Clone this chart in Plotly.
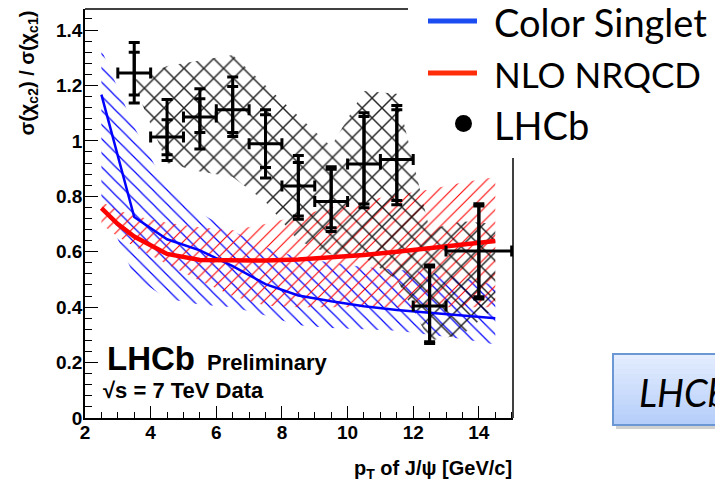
import plotly.graph_objects as go

# ---------------- data ----------------
# LHCb measurement: bins in pT(J/psi)
pt_center = [3.5, 4.5, 5.5, 6.5, 7.5, 8.5, 9.5, 10.5, 11.5, 12.5, 14.0]
pt_halfw = [0.5, 0.5, 0.5, 0.5, 0.5, 0.5, 0.5, 0.5, 0.5, 0.5, 1.0]
ratio = [1.245, 1.014, 1.086, 1.112, 0.990, 0.837, 0.781, 0.917, 0.933, 0.404, 0.603]
stat_hi = [1.320, 1.076, 1.152, 1.196, 1.094, 0.922, 0.898, 1.088, 1.112, 0.545, 0.765]
stat_lo = [1.166, 0.950, 1.030, 1.030, 0.904, 0.729, 0.687, 0.772, 0.785, 0.275, 0.438]
tot_hi = [1.355, 1.149, 1.188, 1.231, 1.112, 0.947, 0.907, 1.102, 1.128, 0.552, 0.773]
tot_lo = [1.137, 0.929, 0.971, 1.016, 0.866, 0.717, 0.673, 0.759, 0.770, 0.269, 0.429]

# polarisation band around the data (cross-hatched)
pol_x = [3.5, 4.5, 5.5, 6.5, 7.5, 8.5, 9.5, 10.5, 11.5, 12.5, 13.5, 14.5]
pol_hi = [1.22, 1.27, 1.29, 1.31, 1.20, 1.09, 0.98, 1.18, 1.17, 0.68, 0.71, 0.70]
pol_lo = [1.20, 0.92, 0.89, 0.87, 0.78, 0.64, 0.59, 0.58, 0.50, 0.28, 0.30, 0.40]

# Color Singlet prediction
cs_x = [2.5, 3.5, 4.5, 5.5, 6.5, 7.5, 8.5, 9.5, 10.5, 11.5, 12.5, 13.5, 14.5]
cs_y = [1.167, 0.725, 0.645, 0.605, 0.548, 0.483, 0.442, 0.421, 0.403, 0.390, 0.380, 0.370, 0.360]
cs_hi = [1.33, 1.05, 0.83, 0.74, 0.675, 0.615, 0.58, 0.56, 0.545, 0.535, 0.525, 0.505, 0.48]
cs_lo = [0.78, 0.51, 0.43, 0.41, 0.40, 0.37, 0.335, 0.325, 0.32, 0.315, 0.30, 0.285, 0.265]

# NLO NRQCD prediction
nlo_x = [2.5, 3.0, 3.5, 4.5, 5.5, 6.5, 7.5, 8.5, 9.5, 10.5, 11.5, 12.5, 13.5, 14.5]
nlo_y = [0.757, 0.700, 0.655, 0.592, 0.570, 0.567, 0.568, 0.572, 0.579, 0.588, 0.600, 0.612, 0.627, 0.639]
nlo_hi = [0.78, 0.75, 0.73, 0.705, 0.688, 0.678, 0.70, 0.73, 0.76, 0.785, 0.805, 0.825, 0.85, 0.87]
nlo_lo = [0.70, 0.654, 0.62, 0.555, 0.495, 0.44, 0.405, 0.40, 0.40, 0.40, 0.40, 0.40, 0.40, 0.40]

legend_labels = ["Color Singlet", "NLO NRQCD", "LHCb"]

# ---------------- geometry helpers ----------------
W, H = 715, 483
ML, MR, MT, MB = 85, 202, 9, 65
PW, PH = W - ML - MR, H - MT - MB


def px(x):
    return (x - ML) / PW


def py(y):
    return (H - MB - y) / PH


def band(xs, hi, lo):
    return xs + xs[::-1], hi + lo[::-1]


fig = go.Figure()

bx, by = band(cs_x, cs_hi, cs_lo)
fig.add_trace(go.Scatter(x=bx, y=by, fill="toself", mode="none",
                         fillcolor="rgba(0,0,0,0)",
                         fillpattern=dict(shape="\\", size=10, solidity=0.12,
                                          fgcolor="#0000ff", bgcolor="rgba(0,0,0,0)",
                                          fillmode="replace"),
                         hoverinfo="skip", showlegend=False))
bx, by = band(nlo_x, nlo_hi, nlo_lo)
fig.add_trace(go.Scatter(x=bx, y=by, fill="toself", mode="none",
                         fillcolor="rgba(0,0,0,0)",
                         fillpattern=dict(shape="/", size=9, solidity=0.12,
                                          fgcolor="#ff0000", bgcolor="rgba(0,0,0,0)",
                                          fillmode="replace"),
                         hoverinfo="skip", showlegend=False))
bx, by = band(pol_x, pol_hi, pol_lo)
fig.add_trace(go.Scatter(x=bx, y=by, fill="toself", mode="none",
                         fillcolor="rgba(0,0,0,0)",
                         fillpattern=dict(shape="x", size=14, solidity=0.2,
                                          fgcolor="rgba(0,0,0,0.85)", bgcolor="rgba(0,0,0,0)",
                                          fillmode="replace"),
                         hoverinfo="skip", showlegend=False))

fig.add_trace(go.Scatter(x=cs_x, y=cs_y, mode="lines",
                         line=dict(color="#0000ff", width=2.5), showlegend=False))
fig.add_trace(go.Scatter(x=nlo_x, y=nlo_y, mode="lines",
                         line=dict(color="#ff0000", width=4.5), showlegend=False))

# data: total errors (outer caps) + horizontal bin widths
fig.add_trace(go.Scatter(
    x=pt_center, y=ratio, mode="markers",
    marker=dict(size=1, color="black"),
    error_x=dict(type="data", array=pt_halfw, color="black", thickness=3, width=5.5),
    error_y=dict(type="data", symmetric=False,
                 array=[h - v for h, v in zip(tot_hi, ratio)],
                 arrayminus=[v - l for l, v in zip(tot_lo, ratio)],
                 color="black", thickness=3, width=5.5),
    showlegend=False))
# data: statistical errors (inner caps)
fig.add_trace(go.Scatter(
    x=pt_center, y=ratio, mode="markers",
    marker=dict(size=1, color="black"),
    error_y=dict(type="data", symmetric=False,
                 array=[h - v for h, v in zip(stat_hi, ratio)],
                 arrayminus=[v - l for l, v in zip(stat_lo, ratio)],
                 color="black", thickness=3, width=5.5),
    showlegend=False))

tickfont = dict(family="Liberation Sans", size=19, color="black", weight="bold")
fig.update_xaxes(range=[2, 15.04], showline=True, linecolor="black", linewidth=1.5,
                 ticks="inside", ticklen=12, tickwidth=1.2, tickcolor="black",
                 dtick=2, tick0=2, tickfont=tickfont, showgrid=False, zeroline=False,
                 ticklabelstandoff=-4,
                 minor=dict(dtick=0.5, ticklen=6, ticks="inside", tickcolor="black", tickwidth=1.2))
fig.update_yaxes(range=[0, 1.476], showline=True, linecolor="black", linewidth=1.5,
                 ticks="inside", ticklen=13, tickwidth=1.2, tickcolor="black",
                 dtick=0.2, tick0=0, tickfont=tickfont, showgrid=False, zeroline=False,
                 ticklabelstandoff=-3,
                 minor=dict(dtick=0.04, ticklen=7, ticks="inside", tickcolor="black", tickwidth=1.2))

shapes = []
# frame: top (partially covered by the slide's legend) and right
shapes.append(dict(type="line", xref="paper", yref="paper", x0=0, x1=px(408), y0=1, y1=1,
                   line=dict(color="black", width=1.5)))
shapes.append(dict(type="line", xref="paper", yref="paper", x0=1, x1=1, y0=0, y1=py(158),
                   line=dict(color="black", width=1.5)))

# slide legend marks
shapes.append(dict(type="line", xref="paper", yref="paper", x0=px(428), x1=px(477),
                   y0=py(21), y1=py(21), line=dict(color="#1a4cf2", width=5)))
shapes.append(dict(type="line", xref="paper", yref="paper", x0=px(428), x1=px(477),
                   y0=py(73), y1=py(73), line=dict(color="#ff2d0a", width=5)))
shapes.append(dict(type="circle", xref="paper", yref="paper", x0=px(455), x1=px(472),
                   y0=py(115), y1=py(132), fillcolor="black", line=dict(width=0)))

# bottom-right slide box with gradient + shadow
bx0, bx1, by0, by1 = 613, 740, 354, 425
shapes.append(dict(type="rect", xref="paper", yref="paper", x0=px(bx0 + 3), x1=px(bx1 + 3),
                   y0=py(by0 + 4), y1=py(by1 + 4), fillcolor="rgba(0,0,0,0.18)", line=dict(width=0)))
nstrip = 14
for i in range(nstrip):
    t = i / (nstrip - 1)
    r = int(228 + (182 - 228) * t)
    g = int(237 + (207 - 237) * t)
    b = int(255 + (250 - 255) * t)
    y0 = by0 + (by1 - by0) * i / nstrip
    y1 = by0 + (by1 - by0) * (i + 1) / nstrip
    shapes.append(dict(type="rect", xref="paper", yref="paper", x0=px(bx0), x1=px(bx1),
                       y0=py(y0), y1=py(y1 + 0.5), fillcolor=f"rgb({r},{g},{b})",
                       line=dict(width=0)))
shapes.append(dict(type="rect", xref="paper", yref="paper", x0=px(bx0), x1=px(bx1),
                   y0=py(by0), y1=py(by1), fillcolor="rgba(0,0,0,0)",
                   line=dict(color="#6b98d4", width=2)))

annotations = []
bold = dict(family="Liberation Sans", color="black", weight="bold")
annotations.append(dict(xref="paper", yref="paper", x=px(28), y=py(9), xanchor="center",
                        yanchor="top", textangle=-90, showarrow=False,
                        text="σ(χ<sub>c2</sub>) / σ(χ<sub>c1</sub>)",
                        font=dict(size=20, **bold)))
annotations.append(dict(xref="paper", yref="paper", x=px(514), y=py(470), xanchor="right",
                        yanchor="middle", showarrow=False,
                        text="p<sub>T</sub> of J/ψ [GeV/c]", font=dict(size=20, **bold)))
annotations.append(dict(xref="paper", yref="paper", x=px(105), y=py(358), xanchor="left",
                        yanchor="middle", showarrow=False, text="LHCb",
                        font=dict(size=33, **bold)))
annotations.append(dict(xref="paper", yref="paper", x=px(205), y=py(362), xanchor="left",
                        yanchor="middle", showarrow=False, text="Preliminary",
                        font=dict(size=22, **bold)))
annotations.append(dict(xref="paper", yref="paper", x=px(101), y=py(390), xanchor="left",
                        yanchor="middle", showarrow=False, text="√s = 7 TeV Data",
                        font=dict(size=22, **bold)))

slide_sizes = [38, 35, 38]
for lab, yc, fs in zip(legend_labels, [22, 74, 125], slide_sizes):
    annotations.append(dict(xref="paper", yref="paper", x=px(492), y=py(yc), xanchor="left",
                            yanchor="middle", showarrow=False, text=lab,
                            font=dict(family="Lato", size=fs, color="black")))
annotations.append(dict(xref="paper", yref="paper", x=px(637), y=py(392), xanchor="left",
                        yanchor="middle", showarrow=False, text="<i>LHCb</i>",
                        font=dict(family="Lato", size=38, color="black")))

fig.update_layout(width=W, height=H, margin=dict(l=ML, r=MR, t=MT, b=MB),
                  paper_bgcolor="white", plot_bgcolor="white",
                  shapes=shapes, annotations=annotations, showlegend=False)

fig.write_html("out.html")
